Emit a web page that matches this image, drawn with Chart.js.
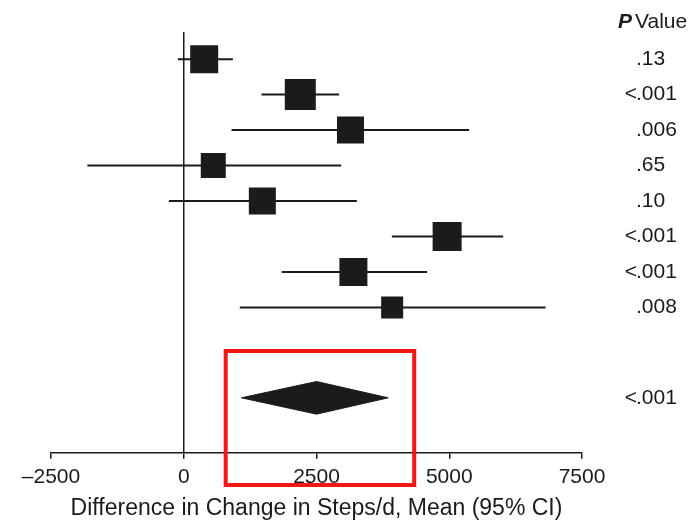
<!DOCTYPE html>
<html>
<head>
<meta charset="utf-8">
<script src="https://cdn.jsdelivr.net/npm/chart.js@4/dist/chart.umd.min.js"></script>
<style>
  html, body { margin: 0; padding: 0; background: #fff; }
  #wrap { width: 700px; height: 521px; position: relative; }
</style>
</head>
<body>
<div id="wrap"><canvas id="forest"></canvas></div>
<script>
// study rows (top to bottom), difference in change in steps/d
const rows = [1, 2, 3, 4, 5, 6, 7, 8];
const estimates = [385, 2195, 3140, 556, 1480, 4960, 3195, 3925];
const lower = [-110, 1465, 900, -1815, -280, 3920, 1845, 1055];
const upper = [925, 2925, 5375, 2965, 3260, 6015, 4585, 6815];
const weights = [28, 31, 27, 25, 27, 29, 28, 22];
const pValues = ['.13', '<.001', '.006', '.65', '.10', '<.001', '<.001', '.008'];

// pooled estimate
const pooledRow = 10.55;
const pooled = { est: 2500, lo: 1085, hi: 3850 };
const pooledP = '<.001';

const xTicks = [-2500, 0, 2500, 5000, 7500];

const FONT = '"Liberation Sans", Arial, sans-serif';
const INK = '#1b1b1b';

// whiskers as one line broken by nulls
const whiskers = [];
rows.forEach((r, i) => {
    whiskers.push({ x: lower[i], y: r }, { x: upper[i], y: r }, { x: null, y: null });
});

const diamond = [
    { x: pooled.lo, y: pooledRow },
    { x: pooled.est, y: pooledRow - 0.46 },
    { x: pooled.hi, y: pooledRow },
    { x: pooled.est, y: pooledRow + 0.46 },
    { x: pooled.lo, y: pooledRow }
];

// p values column + header + highlight box
const sidePlugin = {
    id: 'side',
    afterDraw(chart) {
        const { ctx } = chart;
        const ys = chart.scales.y;
        const xs = chart.scales.x;
        const dotX = 636;
        ctx.save();
        ctx.fillStyle = INK;
        ctx.font = '21px ' + FONT;
        ctx.textBaseline = 'middle';
        const put = (txt, y) => {
            const py = ys.getPixelForValue(y);
            if (txt.startsWith('<')) {
                ctx.textAlign = 'right';
                ctx.fillText('<', dotX + 1, py);
                txt = txt.slice(1);
            }
            ctx.textAlign = 'left';
            ctx.fillText(txt, dotX, py);
        };
        pValues.forEach((p, i) => put(p, rows[i]));
        put(pooledP, pooledRow);

        // header
        ctx.textAlign = 'left';
        ctx.font = 'italic bold 21px ' + FONT;
        ctx.fillText('P', 618, 22);
        const w = ctx.measureText('P').width + 3;
        ctx.font = '21px ' + FONT;
        ctx.fillText('Value', 618 + w, 22);

        // red highlight rectangle
        ctx.strokeStyle = '#f21616';
        ctx.lineWidth = 4;
        const x0 = xs.getPixelForValue(790);
        const x1 = xs.getPixelForValue(4340);
        ctx.strokeRect(x0, 351, x1 - x0, 134);
        ctx.restore();
    }
};

new Chart(document.getElementById('forest'), {
    type: 'scatter',
    data: {
        datasets: [
            {
                label: 'zero',
                type: 'line',
                data: [{ x: 0, y: 0.235 }, { x: 0, y: 12.1 }],
                borderColor: INK,
                borderWidth: 1.5,
                pointRadius: 0
            },
            {
                label: 'ci',
                type: 'line',
                data: whiskers,
                spanGaps: false,
                borderColor: INK,
                borderWidth: 2,
                pointRadius: 0
            },
            {
                label: 'estimates',
                data: rows.map((r, i) => ({ x: estimates[i], y: r })),
                pointStyle: 'rect',
                pointRadius: weights.map(w => w / Math.SQRT2),
                backgroundColor: INK,
                borderColor: INK,
                borderWidth: 0
            },
            {
                label: 'pooled',
                type: 'line',
                data: diamond,
                fill: 'shape',
                backgroundColor: INK,
                borderColor: INK,
                borderWidth: 1,
                pointRadius: 0,
                tension: 0
            }
        ]
    },
    options: {
        responsive: true,
        maintainAspectRatio: false,
        animation: false,
        events: [],
        layout: { padding: { left: 51, right: 118, top: 32, bottom: 1 } },
        plugins: {
            legend: { display: false },
            tooltip: { enabled: false }
        },
        scales: {
            x: {
                type: 'linear',
                min: -2500,
                max: 7500,
                afterBuildTicks: axis => { axis.ticks = xTicks.map(v => ({ value: v })); },
                grid: {
                    drawOnChartArea: false,
                    drawTicks: true,
                    tickLength: 6,
                    color: INK,
                    lineWidth: 1.5
                },
                border: { display: true, color: INK, width: 1.5 },
                ticks: {
                    color: INK,
                    font: { family: FONT, size: 21 },
                    padding: 6,
                    maxRotation: 0,
                    callback: v => (v < 0 ? '\u2013' + Math.abs(v) : String(v))
                },
                title: {
                    display: true,
                    text: 'Difference in Change in Steps/d, Mean (95% CI)',
                    color: INK,
                    font: { family: FONT, size: 23, lineHeight: 1 },
                    padding: { top: 1, bottom: 0 }
                }
            },
            y: {
                type: 'linear',
                display: false,
                reverse: true,
                min: 0.235,
                max: 12.1
            }
        }
    },
    plugins: [sidePlugin]
});
</script>
</body>
</html>
